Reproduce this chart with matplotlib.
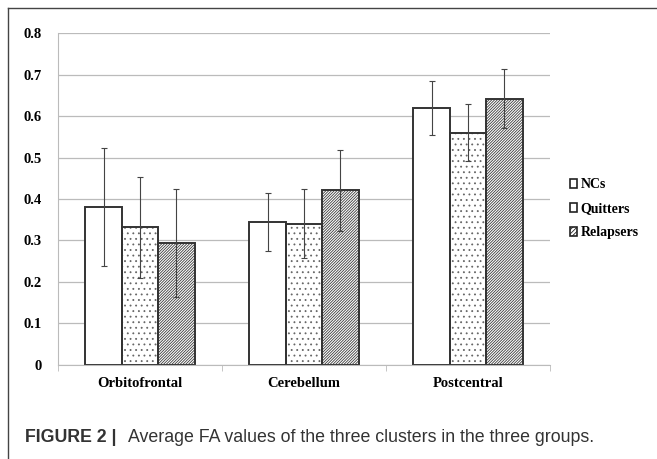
import numpy as np
import matplotlib; matplotlib.use("Agg")
import matplotlib.pyplot as plt
from matplotlib.lines import Line2D
from matplotlib.patches import Patch

regions = ["Orbitofrontal", "Cerebellum", "Postcentral"]
groups = ["NCs", "Quitters", "Relapsers"]
means = {
    "NCs":       [0.380, 0.345, 0.619],
    "Quitters":  [0.332, 0.340, 0.560],
    "Relapsers": [0.294, 0.421, 0.642],
}
errs = {
    "NCs":       [0.142, 0.070, 0.065],
    "Quitters":  [0.122, 0.083, 0.068],
    "Relapsers": [0.129, 0.098, 0.071],
}
hatches = {"NCs": "", "Quitters": "...", "Relapsers": "/" * 12}
hatch_col = {"NCs": "#333333", "Quitters": "#666666", "Relapsers": "#3a3a3a"}
legend_hatch = {"NCs": "", "Quitters": "", "Relapsers": "/" * 8}

plt.rcParams["hatch.linewidth"] = 0.6
serif = ["Liberation Serif", "DejaVu Serif"]
fs = 10.5

fig = plt.figure(figsize=(6.57, 4.59), dpi=100)
ax = fig.add_axes([0.0883, 0.2048, 0.7487, 0.7233])

x = np.arange(len(regions))
w = 0.222
for i, g in enumerate(groups):
    pos = x + (i - 1) * w
    # hatch layer first, then the outline on top
    ax.bar(pos, means[g], w, color="white", edgecolor=hatch_col[g],
           linewidth=0, hatch=hatches[g], zorder=2)
    ax.bar(pos, means[g], w, color="none", edgecolor="#333333",
           linewidth=1.4, zorder=2.5)
    ax.errorbar(pos, means[g], yerr=errs[g], fmt="none",
                ecolor="#444444", elinewidth=0.8, capsize=2.5, capthick=0.8, zorder=3)

handles = [Patch(facecolor="white", edgecolor="#222222", linewidth=1.2,
                 hatch=legend_hatch[g], label=g) for g in groups]

ax.set_xlim(-0.5, 2.5)
ax.set_ylim(0, 0.8)
ax.set_yticks(np.arange(0, 0.81, 0.1))
ax.set_yticklabels(["0"] + [f"{v:.1f}" for v in np.arange(0.1, 0.81, 0.1)],
                   family=serif, fontweight="bold", fontsize=fs)
ax.set_xticks(x)
ax.set_xticklabels(regions, family=serif, fontweight="bold", fontsize=fs)
ax.tick_params(axis="x", length=0, pad=9)
ax.tick_params(axis="y", length=0, pad=12)
ax.set_xticks([-0.5, 0.5, 1.5, 2.5], minor=True)
ax.tick_params(axis="x", which="minor", length=4, color="#bbbbbb")
ax.grid(axis="y", color="#bbbbbb", linewidth=0.9, zorder=0)
ax.set_axisbelow(True)
for s in ["top", "right"]:
    ax.spines[s].set_visible(False)
for s in ["left", "bottom"]:
    ax.spines[s].set_color("#bbbbbb")

ax.legend(handles=handles, loc="center left", bbox_to_anchor=(0.848, 0.545),
          bbox_transform=fig.transFigure, frameon=False, handlelength=0.55,
          handleheight=0.55, handletextpad=0.25, labelspacing=0.8,
          prop={"family": serif, "weight": "bold", "size": 10})

# outer frame of the figure panel
fig.add_artist(Line2D([0.012, 1.0], [0.982, 0.982], color="#444444", linewidth=1.0))
fig.add_artist(Line2D([0.012, 0.012], [0.0, 0.982], color="#444444", linewidth=1.0))

fig.text(0.038, 0.038, "FIGURE 2 |", fontsize=12.8, fontweight="bold",
         family=["Liberation Sans", "DejaVu Sans"], color="#333333")
fig.text(0.195, 0.038, "Average FA values of the three clusters in the three groups.",
         fontsize=12.8, family=["Liberation Sans", "DejaVu Sans"], color="#333333")

fig.savefig("out.png", dpi=100)
